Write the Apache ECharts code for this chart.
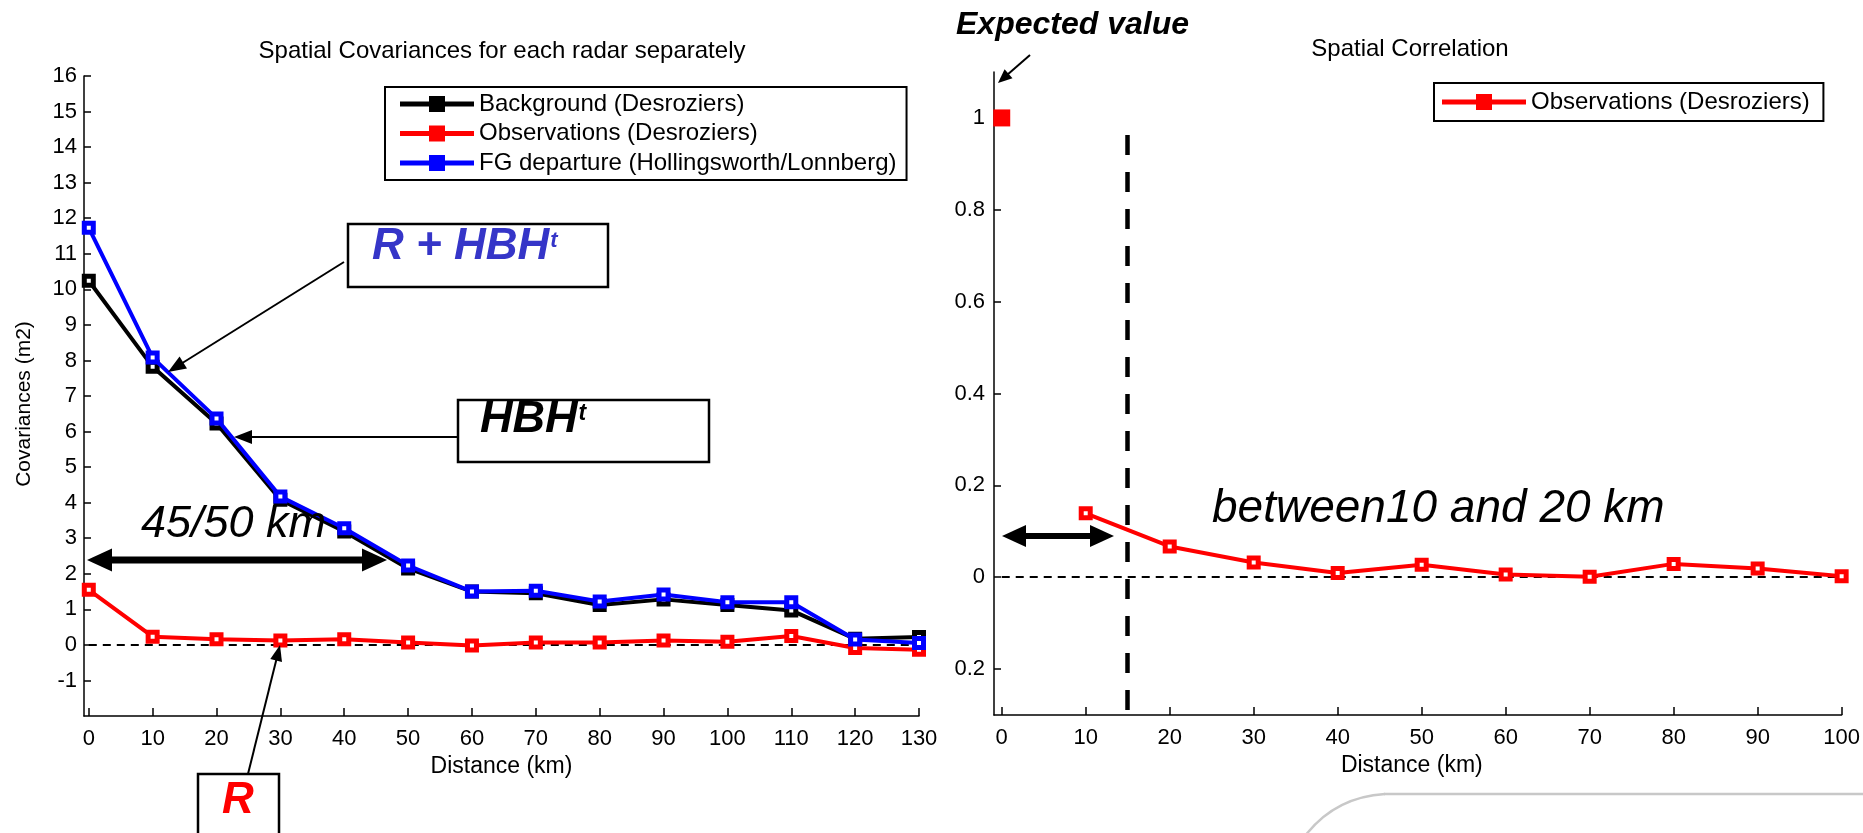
<!DOCTYPE html>
<html><head><meta charset="utf-8">
<script src="https://cdn.jsdelivr.net/npm/echarts@6/dist/echarts.min.js"></script>
<style>html,body{margin:0;padding:0;background:#fff}#c{width:1863px;height:833px}</style>
</head><body><div id="c"></div>
<script>
// ---------- data ----------
const distanceCov = [0,10,20,30,40,50,60,70,80,90,100,110,120,130];
const backgroundCov = [10.24,7.82,6.23,4.08,3.19,2.15,1.5,1.45,1.12,1.28,1.12,0.97,0.17,0.22];
const observationsCov = [1.55,0.23,0.16,0.12,0.16,0.07,-0.02,0.07,0.07,0.12,0.09,0.25,-0.09,-0.14];
const fgDepartureCov = [11.73,8.08,6.37,4.17,3.28,2.23,1.5,1.52,1.22,1.42,1.2,1.2,0.15,0.05];
const distanceCorr = [10,20,30,40,50,60,70,80,90,100];
const observationsCorr = [0.139,0.067,0.032,0.009,0.027,0.006,0.001,0.029,0.019,0.002];
const expectedPoint = [0, 1];
const covYTicks = [-1,0,1,2,3,4,5,6,7,8,9,10,11,12,13,14,15,16];
const covXTicks = [0,10,20,30,40,50,60,70,80,90,100,110,120,130];
const corrXTicks = [0,10,20,30,40,50,60,70,80,90,100];
const corrYTicks = [-0.2,0,0.2,0.4,0.6,0.8,1];
const corrYTickLabels = ['0.2','0','0.2','0.4','0.6','0.8','1'];
const dividerKm = 15;
const dividerRange = [0.963, -0.29];
const zeroLevel = 0;

// ---------- helpers ----------
const FONT = '"Liberation Sans", Arial, Helvetica, sans-serif';
const mctx = document.createElement('canvas').getContext('2d');
function tw(t, f){ mctx.font = f; return mctx.measureText(t).width; }
function txt(text, x, baseline, size, style, fill){
  const font = style + ' ' + size + 'px ' + FONT;
  return {type:'text', x:x, y:baseline - 0.35*size, z:100,
    style:{text:text, font:font, fill:fill, align:'left', verticalAlign:'middle'}};
}
function arrow(x1,y1,x2,y2,L,W,lw){
  const dx=x2-x1, dy=y2-y1, len=Math.hypot(dx,dy), ux=dx/len, uy=dy/len;
  const bx=x2-ux*L, by=y2-uy*L, px=-uy, py=ux;
  return [
    {type:'line', z:100, shape:{x1:x1,y1:y1,x2:bx+ux*2,y2:by+uy*2}, style:{stroke:'#000', lineWidth:lw}},
    {type:'polygon', z:100, shape:{points:[[x2,y2],[bx+px*W,by+py*W],[bx-px*W,by-py*W]]}, style:{fill:'#000'}}
  ];
}
function dblArrow(x1,x2,y,L,W,lw){
  return [
    {type:'line', z:100, shape:{x1:x1+L-2,y1:y,x2:x2-L+2,y2:y}, style:{stroke:'#000', lineWidth:lw}},
    {type:'polygon', z:100, shape:{points:[[x1,y],[x1+L,y-W],[x1+L,y+W]]}, style:{fill:'#000'}},
    {type:'polygon', z:100, shape:{points:[[x2,y],[x2-L,y-W],[x2-L,y+W]]}, style:{fill:'#000'}}
  ];
}
function box(x,y,w,h){
  return {type:'rect', z:99, shape:{x:x,y:y,width:w,height:h}, style:{fill:'#fff', stroke:'#000', lineWidth:2.5}};
}
function pairs(xs, ys){ return xs.map((x,i)=>[x, ys[i]]); }

const iconLeft = 'path://M0,5.5H74V10.5H0Z M29,0H45V16H29Z';
const iconRight = 'path://M0,5.5H84V10.5H0Z M34,0H50V16H34Z';
const axisColor = '#000';
const lineW = 4;
function seriesStyle(color){
  return {symbol:'rect', symbolSize:9, lineStyle:{color:color, width:lineW},
    itemStyle:{color:'#ffffff', borderColor:color, borderWidth:5}};
}
function legendItem(name, color, icon){
  return {name:name, icon:icon, itemStyle:{color:color, borderWidth:0}};
}

const blueFont = 'italic bold 44px ' + FONT;
const hbhFont = 'italic bold 45px ' + FONT;

const graphics = [].concat(
  [box(348,224,260,63), txt('R + HBH',372,262,44,'italic bold','#3535c8'),
   txt('t', 372 + tw('R + HBH', blueFont) + 1, 249, 22, 'italic bold', '#3535c8')],
  arrow(344,262,168,372,18,7,2),
  [box(458,400,251,62), txt('HBH',480,435,45,'italic bold','#000'),
   txt('t', 480 + tw('HBH', hbhFont) + 1, 422, 23, 'italic bold', '#000')],
  arrow(458,437,234,437,18,7,2),
  [txt('45/50 km',141,540,45,'italic','#000')],
  dblArrow(87,387,560,25,11.5,7),
  [box(198,774,81,80), txt('R',222,816,44,'italic bold','#ff0000')],
  arrow(248,774,280,645,16,6,2),
  [txt('Expected value',956,36,32,'italic bold','#000')],
  arrow(1030,55,998,83,14,6,2),
  [txt('between10 and 20 km',1212,525,46,'italic','#000')],
  dblArrow(1002,1114,536,24,11,6),
  [{type:'text', x:24, y:404, rotation:Math.PI/2, z:100,
    style:{text:'Covariances (m2)', font:'21px ' + FONT, fill:'#000', align:'center', verticalAlign:'middle'}}],
  [{type:'bezierCurve', z:1, shape:{x1:1305,y1:836,cpx1:1335,cpy1:797,x2:1385,y2:794}, style:{stroke:'#c8c8c8', lineWidth:2.5, fill:null}},
   {type:'line', z:1, shape:{x1:1384,y1:794,x2:1863,y2:794}, style:{stroke:'#c8c8c8', lineWidth:2.5}}]
);

const baseAxis = {
  axisLine:{show:true, onZero:false, lineStyle:{color:axisColor, width:1.5}},
  splitLine:{show:false}
};

const option = {
  animation:false,
  backgroundColor:'#fff',
  textStyle:{fontFamily:FONT},
  title:[
    {text:'Spatial Covariances for each radar separately', left:497, top:34, textAlign:'center',
     textStyle:{fontSize:24, fontWeight:'normal', color:'#000', fontFamily:FONT}},
    {text:'Spatial Correlation', left:1405, top:32, textAlign:'center',
     textStyle:{fontSize:24, fontWeight:'normal', color:'#000', fontFamily:FONT}}
  ],
  legend:[
    {left:385, top:87, orient:'vertical', selectedMode:false, itemWidth:74, itemHeight:16, itemGap:3.5,
     padding:[4,10,4,15], borderColor:'#000', borderWidth:2, backgroundColor:'#fff',
     textStyle:{fontSize:24, color:'#000', lineHeight:26, fontFamily:FONT},
     data:[legendItem('Background (Desroziers)', '#000000', iconLeft),
           legendItem('Observations (Desroziers)', '#ff0000', iconLeft),
           legendItem('FG departure (Hollingsworth/Lonnberg)', '#0000ff', iconLeft)]},
    {left:1434, top:83, orient:'vertical', selectedMode:false, itemWidth:84, itemHeight:16,
     padding:[6,7,6,8], borderColor:'#000', borderWidth:2, backgroundColor:'#fff',
     textStyle:{fontSize:24, color:'#000', lineHeight:26, fontFamily:FONT},
     data:[legendItem('Observations (Desroziers) ', '#ff0000', iconRight)]}
  ],
  grid:[
    {left:84, top:76, width:835, height:640, containLabel:false},
    {left:994, top:72, width:852, height:643, containLabel:false}
  ],
  xAxis:[
    Object.assign({}, baseAxis, {gridIndex:0, type:'value', min:-0.75, max:130,
      axisTick:{show:true, inside:true, length:8, customValues:covXTicks, lineStyle:{color:axisColor, width:1.5}},
      axisLabel:{customValues:covXTicks, color:'#000', fontSize:22, margin:12, fontFamily:FONT},
      name:'Distance (km)', nameLocation:'middle', nameGap:38,
      nameTextStyle:{fontSize:23, color:'#000', fontFamily:FONT}}),
    Object.assign({}, baseAxis, {gridIndex:1, type:'value', min:-0.92, max:100,
      axisTick:{show:true, inside:true, length:8, customValues:corrXTicks, lineStyle:{color:axisColor, width:1.5}},
      axisLabel:{customValues:corrXTicks, color:'#000', fontSize:22, margin:12, fontFamily:FONT},
      name:'Distance (km)', nameLocation:'middle', nameGap:38,
      nameTextStyle:{fontSize:23, color:'#000', fontFamily:FONT, padding:[0,12,0,0]}})
  ],
  yAxis:[
    Object.assign({}, baseAxis, {gridIndex:0, type:'value', min:-2, max:16,
      axisTick:{show:true, inside:true, length:7, customValues:covYTicks, lineStyle:{color:axisColor, width:1.5}},
      axisLabel:{customValues:covYTicks, color:'#000', fontSize:22, margin:7, fontFamily:FONT}}),
    Object.assign({}, baseAxis, {gridIndex:1, type:'value', min:-0.3, max:1.1,
      axisTick:{show:true, inside:true, length:7, customValues:corrYTicks, lineStyle:{color:axisColor, width:1.5}},
      axisLabel:{customValues:corrYTicks, color:'#000', fontSize:22, margin:9, fontFamily:FONT,
        formatter:function(v){ const i = corrYTicks.findIndex(t=>Math.abs(t-v)<1e-9); return i>=0 ? corrYTickLabels[i] : ''; }}})
  ],
  series:[
    Object.assign({type:'line', name:'Background (Desroziers)', xAxisIndex:0, yAxisIndex:0,
      data:pairs(distanceCov, backgroundCov), z:3}, seriesStyle('#000000')),
    Object.assign({type:'line', name:'Observations (Desroziers)', xAxisIndex:0, yAxisIndex:0,
      data:pairs(distanceCov, observationsCov), z:3,
      markLine:{silent:true, symbol:['none','none'], label:{show:false}, z:1,
        lineStyle:{color:'#000', width:2, type:[8,6]},
        data:[[{coord:[distanceCov[0], zeroLevel]},{coord:[distanceCov[distanceCov.length-1], zeroLevel]}]]}},
      seriesStyle('#ff0000')),
    Object.assign({type:'line', name:'FG departure (Hollingsworth/Lonnberg)', xAxisIndex:0, yAxisIndex:0,
      data:pairs(distanceCov, fgDepartureCov), z:4}, seriesStyle('#0000ff')),
    Object.assign({type:'line', name:'Observations (Desroziers) ', xAxisIndex:1, yAxisIndex:1,
      data:pairs(distanceCorr, observationsCorr), z:3,
      markLine:{silent:true, symbol:['none','none'], label:{show:false}, z:1,
        lineStyle:{color:'#000', width:2, type:[8,6]},
        data:[
          [{coord:[corrXTicks[0], zeroLevel]},{coord:[corrXTicks[corrXTicks.length-1], zeroLevel]}],
          [{coord:[dividerKm, dividerRange[0]], lineStyle:{color:'#000', width:4.5, type:[20,17]}},
           {coord:[dividerKm, dividerRange[1]]}]
        ]}}, seriesStyle('#ff0000')),
    {type:'scatter', name:'expected', xAxisIndex:1, yAxisIndex:1, data:[expectedPoint],
     symbol:'rect', symbolSize:17, itemStyle:{color:'#ff0000', opacity:1}, z:5}
  ],
  graphic:{elements:graphics}
};
const chart = echarts.init(document.getElementById('c'), null, {renderer:'canvas'});
chart.setOption(option);
</script></body></html>
